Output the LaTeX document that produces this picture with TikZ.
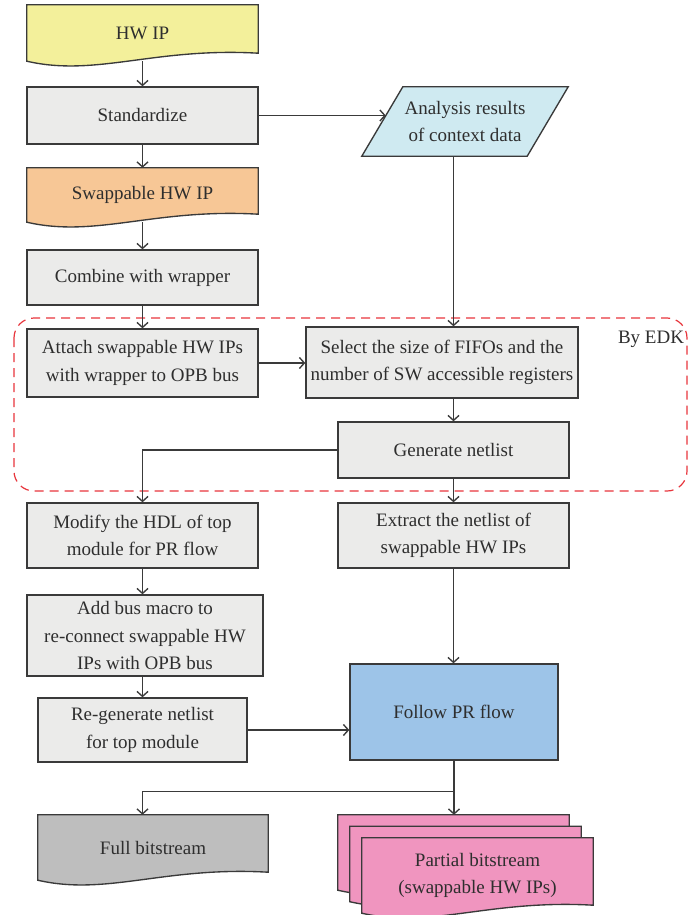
\documentclass[tikz,border=0pt]{standalone}
\usepackage{fontspec}
\setmainfont{Liberation Serif}
\usepackage{xcolor}
\usetikzlibrary{arrows.meta,calc,positioning,backgrounds}

\definecolor{linegray}{HTML}{3A3A3A}
\definecolor{txtgray}{HTML}{2E2E2E}
\definecolor{boxgray}{HTML}{EBEBEA}
\definecolor{ipyellow}{HTML}{F3F09B}
\definecolor{iporange}{HTML}{F7C796}
\definecolor{datablue}{HTML}{CFEAF1}
\definecolor{prblue}{HTML}{9DC4E8}
\definecolor{fullgray}{HTML}{BEBEBE}
\definecolor{bitpink}{HTML}{F095BF}
\definecolor{edkred}{HTML}{E8353C}

% document outline with wavy bottom, drawn behind the node
\newcommand{\docshape}[2]{%
  \begin{pgfonlayer}{background}
    \draw[outline,fill=#2] (#1.north west) -- (#1.north east) -- ($(#1.south east)+(0,8)$)
      .. controls ($(#1.south east)!0.45!(#1.south west)+(0,14)$) and ($(#1.south east)!0.7!(#1.south west)+(0,-16)$) .. (#1.south west) -- cycle;
  \end{pgfonlayer}}

\begin{document}
\begin{tikzpicture}[x=1pt,y=1pt,
    every node/.style={font=\fontsize{19}{27.5}\selectfont, text=txtgray, align=center, inner sep=2pt},
    outline/.style={draw=linegray, line width=1.35pt},
    proc/.style={outline, fill=boxgray, minimum width=231, minimum height=#1},
    doc/.style={minimum width=231, minimum height=#1},
    flow/.style={outline, -{Straight Barb[length=5pt,width=11pt]}},
    edkline/.style={draw=edkred, line width=1.2pt, dash pattern=on 9pt off 6pt, rounded corners=20}]

    % Page
    \begin{pgfonlayer}{background}
        \fill[white] (0,0) rectangle (689,-915);
    \end{pgfonlayer}
    \useasboundingbox (0,0) rectangle (689,-915);

    % Left column
    \node[doc=56] (hwip) at (142.5,-33) {HW IP};
    \node[proc=57] (std) at (142.5,-115.5) {Standardize};
    \node[doc=54] (swip) at (142.5,-195) {Swappable HW IP};
    \node[proc=55] (comb) at (142.5,-277.5) {Combine with wrapper};
    \node[proc=68] (att) at (142.5,-363) {Attach swappable HW IPs\\with wrapper to OPB bus};
    \node[proc=65] (mod) at (142.5,-535.5) {Modify the HDL of top\\module for PR flow};
    \node[proc=81, minimum width=236] (add) at (145,-635.5) {Add bus macro to\\re-connect swappable HW\\IPs with OPB bus};
    \node[proc=64, minimum width=209] (regen) at (142.5,-730) {Re-generate netlist\\for top module};
    \node[doc=65, minimum width=230] (full) at (153,-847.5) {Full bitstream};

    % Right column
    \node[minimum width=165, minimum height=69] (ana) at (465,-121.5) {Analysis results\\of context data};
    \node[proc=71, minimum width=272] (sel) at (442,-362.5) {Select the size of FIFOs and the\\number of SW accessible registers};
    \node[proc=56] (gen) at (453.5,-450) {Generate netlist};
    \node[proc=65] (ext) at (453.5,-535.5) {Extract the netlist of\\swappable HW IPs};
    \node[proc=96, minimum width=208, fill=prblue] (follow) at (454,-712) {Follow PR flow};
    \node[doc=75] (pbs3) at (453.5,-852.5) {};
    \node[doc=75] (pbs2) at (465.5,-864) {};
    \node[doc=75] (pbs1) at (477.5,-875.5) {Partial bitstream\\(swappable HW IPs)};

    % Shapes behind the texts
    \docshape{hwip}{ipyellow}
    \docshape{swip}{iporange}
    \docshape{full}{fullgray}
    \foreach \p in {pbs3,pbs2,pbs1} {
        \docshape{\p}{bitpink}
    }
    \begin{pgfonlayer}{background}
        \draw[outline, fill=datablue] ($(ana.south west)+(-20.5,0)$) -- ($(ana.north west)+(20.5,0)$)
            -- ($(ana.north east)+(20.5,0)$) -- ($(ana.south east)+(-20.5,0)$) -- cycle;
    \end{pgfonlayer}

    % EDK frame
    \draw[edkline] (14,-318) rectangle (687,-491);
    \node (edk) at (651,-339) {By EDK};

    % Draw edges
    \draw[flow] (hwip.south) -- (std.north);
    \draw[flow] (std) -- (swip);
    \draw[flow] (swip) -- (comb);
    \draw[flow] (comb) -- (att);
    \draw[flow] (std.east) -- ($(std.east -| ana.west)+(3.5,0)$);
    \draw[flow] (ana.south -| gen) -- (sel.north -| gen);
    \draw[flow] (att) -- (sel.west |- att);
    \draw[flow] (sel.south -| gen) -- (gen);
    \draw[flow] (gen.west) -| (mod.north);
    \draw[flow] (gen) -- (ext);
    \draw[flow] (mod) -- (add.north -| mod);
    \draw[flow] (add.south -| regen) -- (regen);
    \draw[flow] (regen) -- (regen -| follow.west);
    \draw[flow] (ext) -- (follow.north -| ext);
    \coordinate (split) at ($(follow.south)+(0,-31)$);
    \draw[outline] (follow.south) -- (split);
    \draw[flow] (split) -| (full.north -| mod);
    \draw[flow] (split) -- (pbs3.north -| split);
\end{tikzpicture}
\end{document}
